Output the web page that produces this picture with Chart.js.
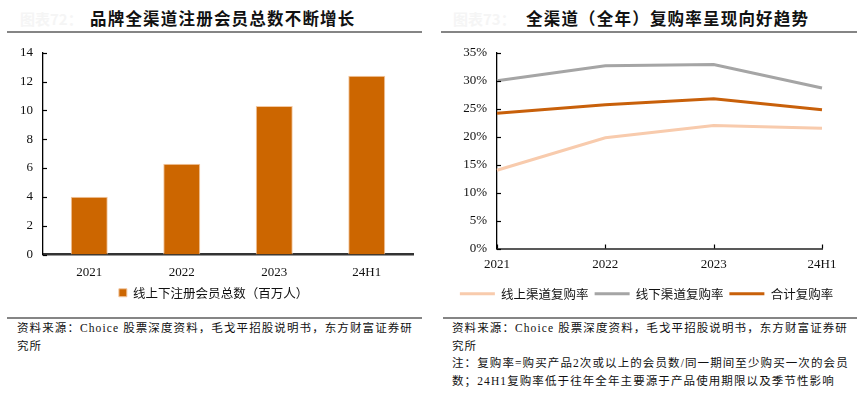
<!DOCTYPE html>
<html><head><meta charset="utf-8">
<script src="https://cdn.jsdelivr.net/npm/chart.js@4/dist/chart.umd.min.js"></script>
<style>
html,body{margin:0;padding:0;background:#fff;width:866px;height:397px;overflow:hidden;position:relative;}
.t{position:absolute;font-family:"Noto Sans CJK SC",sans-serif;font-weight:700;font-size:16.5px;color:#111;letter-spacing:1.2px;white-space:nowrap;}
.f{position:absolute;font-family:"Noto Sans CJK SC",sans-serif;font-size:15px;color:#f5f5f5;font-weight:700;white-space:nowrap;}
.rule{position:absolute;height:2px;background:#858585;}
.src{position:absolute;font-family:"Liberation Serif","Noto Sans CJK SC",serif;font-size:11.5px;color:#111;line-height:17.7px;letter-spacing:1.1px;white-space:nowrap;}
canvas{position:absolute;}
</style></head><body>
<div class="f" style="left:20px;top:8px;">图表72：</div>
<div class="t" style="left:90px;top:6px;">品牌全渠道注册会员总数不断增长</div>
<div class="rule" style="left:7px;width:415px;top:31px;"></div>
<div class="f" style="left:453px;top:8px;">图表73：</div>
<div class="t" style="left:526px;top:6px;">全渠道（全年）复购率呈现向好趋势</div>
<div class="rule" style="left:441px;width:416px;top:31px;"></div>

<canvas id="c1" width="433" height="275" style="left:0;top:35px;"></canvas>
<canvas id="c2" width="433" height="275" style="left:433px;top:35px;"></canvas>

<div class="rule" style="left:7px;width:415px;top:317px;"></div>
<div class="rule" style="left:443px;width:414px;top:317px;"></div>
<div class="src" style="left:17px;top:320px;">资料来源：Choice 股票深度资料，毛戈平招股说明书，东方财富证券研<br>究所</div>
<div class="src" style="left:452px;top:320px;">资料来源：Choice 股票深度资料，毛戈平招股说明书，东方财富证券研<br>究所<br>注：复购率=购买产品2次或以上的会员数/同一期间至少购买一次的会员<br>数；24H1复购率低于往年全年主要源于产品使用期限以及季节性影响</div>

<script>
const barCategories = ['2021', '2022', '2023', '24H1'];
const memberTotals = [4.0, 6.3, 10.3, 12.4];
const barSeriesName = '线上下注册会员总数（百万人）';

const lineCategories = ['2021', '2022', '2023', '24H1'];
const onlineRate = [14.0, 19.8, 22.0, 21.5];
const offlineRate = [30.0, 32.7, 32.9, 28.7];
const totalRate = [24.2, 25.7, 26.8, 24.8];
const lineSeriesNames = ['线上渠道复购率', '线下渠道复购率', '合计复购率'];

const tickFont = {family: '"Liberation Serif", "Times New Roman", serif', size: 13};
const cjkFont = {family: '"Noto Sans CJK SC", sans-serif', size: 12.5};

const innerTicks = {
  id: 'innerTicks',
  afterLayout(chart, args, opts) {
    if (opts.legendShift && chart.legend) {
      chart.legend.left += opts.legendShift;
      chart.legend.right += opts.legendShift;
    }
  },
  afterDraw(chart, args, opts) {
    const ctx = chart.ctx, a = chart.chartArea;
    ctx.save();
    ctx.strokeStyle = '#000';
    ctx.lineWidth = 1.2;
    const y = chart.scales.y;
    y.ticks.forEach((t, i) => {
      const p = Math.round(y.getPixelForTick(i)) + 0.5;
      ctx.beginPath(); ctx.moveTo(a.left, p); ctx.lineTo(a.left + 4, p); ctx.stroke();
    });
    if (opts.xTicks) {
      const x = chart.scales.x;
      x.ticks.forEach((t, i) => {
        const p = Math.round(x.getPixelForTick(i)) + 0.5;
        ctx.beginPath(); ctx.moveTo(p, a.bottom); ctx.lineTo(p, a.bottom - 4); ctx.stroke();
      });
    }
    ctx.restore();
  }
};

new Chart(document.getElementById('c1'), {
  type: 'bar',
  data: {
    labels: barCategories,
    datasets: [{
      label: barSeriesName,
      data: memberTotals,
      backgroundColor: '#CC6600',
      borderColor: '#F3C9A3',
      borderWidth: 1,
      categoryPercentage: 1,
      barPercentage: 0.4
    }]
  },
  options: {
    responsive: false,
    animation: false,
    devicePixelRatio: 1,
    layout: {padding: {left: 14, right: 20, top: 14, bottom: 1}},
    plugins: {
      tooltip: {enabled: false},
      innerTicks: {xTicks: false, legendShift: 0},
      legend: {
        position: 'bottom',
        labels: {boxWidth: 8, boxHeight: 8, color: '#111', font: cjkFont, padding: 10}
      }
    },
    scales: {
      x: {
        grid: {display: false, drawTicks: false},
        border: {display: true, color: '#333', width: 2.5},
        ticks: {color: '#111', font: tickFont, padding: 10},
        afterFit: s => { s.height = 22; }
      },
      y: {
        min: 0, max: 14,
        grid: {display: false, drawTicks: false},
        border: {display: true, color: '#000', width: 1.3},
        ticks: {stepSize: 2, color: '#111', font: tickFont, padding: 10},
        afterFit: s => { s.width = 29; }
      }
    }
  },
  plugins: [innerTicks]
});

const lineColors = ['#F8CBAD', '#A5A5A5', '#C8600A'];
const lineData = [onlineRate, offlineRate, totalRate];

new Chart(document.getElementById('c2'), {
  type: 'line',
  data: {
    labels: lineCategories,
    datasets: lineSeriesNames.map((n, i) => ({
      label: n,
      data: lineData[i],
      borderColor: lineColors[i],
      backgroundColor: lineColors[i],
      borderWidth: 3,
      pointRadius: 0,
      tension: 0
    }))
  },
  options: {
    responsive: false,
    animation: false,
    devicePixelRatio: 1,
    layout: {padding: {left: 0, right: 44, top: 17, bottom: 0}},
    plugins: {
      tooltip: {enabled: false},
      innerTicks: {xTicks: true, legendShift: 19},
      legend: {
        position: 'bottom',
        labels: {usePointStyle: true, pointStyle: 'line', pointStyleWidth: 35, boxHeight: 13, color: '#111', font: cjkFont, padding: 6}
      }
    },
    scales: {
      x: {
        offset: false,
        grid: {display: false, drawTicks: false},
        border: {display: true, color: '#595959', width: 2},
        ticks: {color: '#111', font: tickFont, padding: 8},
        afterFit: s => { s.height = 33; }
      },
      y: {
        min: 0, max: 35,
        grid: {display: false, drawTicks: false},
        border: {display: true, color: '#000', width: 1.3},
        ticks: {stepSize: 5, color: '#111', font: tickFont, padding: 10, callback: v => v + '%'},
        afterFit: s => { s.width = 64; }
      }
    }
  },
  plugins: [innerTicks]
});
</script>
</body></html>
